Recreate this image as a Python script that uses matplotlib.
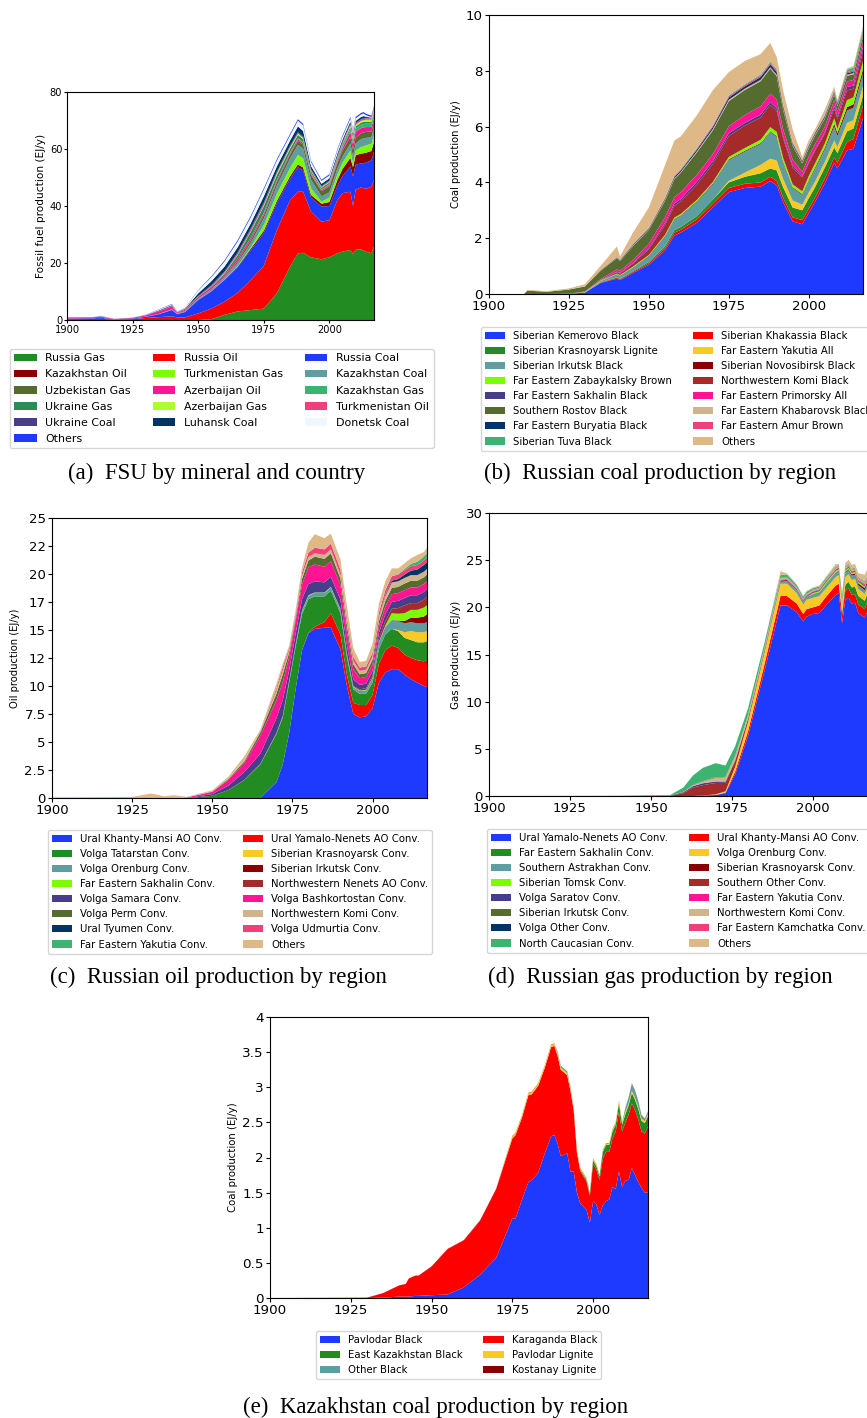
import matplotlib
matplotlib.use('Agg')
import matplotlib.pyplot as plt

W, H = 867, 1418

# colour cycle shared by the regional panels
BLUE = '#1f3aff'
RED = '#ff0000'
GREEN = '#228b22'
GOLD = '#f9ca24'
CADET = '#5f9ea0'
MAROON = '#8b0000'
LAWN = '#7cfc00'
BROWN = '#a52a2a'
SLATE = '#483d8b'
PINK = '#ff1493'
OLIVE = '#556b2f'
TAN = '#d2b48c'
NAVY = '#003366'
ROSE = '#f0407a'
SEA = '#3cb371'
BURLY = '#deb887'
REGION_COLORS = [BLUE, RED, GREEN, GOLD, CADET, MAROON, LAWN, BROWN,
                 SLATE, PINK, OLIVE, TAN, NAVY, ROSE, SEA, BURLY]

# ---- (a) FSU by mineral and country, EJ/y
years_a = [1900, 1910, 1913, 1918, 1925, 1930, 1935, 1940, 1942, 1945, 1950,
           1955, 1960, 1965, 1970, 1975, 1980, 1985, 1988, 1990, 1993, 1997,
           2000, 2003, 2005, 2008, 2009, 2010, 2012, 2013, 2014, 2016, 2017]
russia_gas = [0, 0, 0, 0, 0, 0, 0, 0, 0, 0, 0, 0.3, 1.8, 3.0, 3.5, 4.0, 9.4, 18.7, 23.4, 23.6,
              22.0, 21.3, 22.0, 23.4, 24.0, 24.6, 23.2, 24.6, 24.8, 24.4, 24.0, 23.4, 25.8]
russia_oil = [0.3, 0.35, 0.4, 0.15, 0.3, 0.7, 1.0, 1.3, 0.9, 0.9, 2.3, 3.7, 4.6, 6.5, 10.5, 15.0,
              22.2, 23.3, 21.6, 21.4, 16.0, 13.2, 13.0, 18.6, 20.5, 20.4, 16.8, 21.1, 21.7, 21.9,
              22.0, 23.4, 23.2]
russia_coal = [0.2, 0.25, 0.35, 0.1, 0.2, 0.4, 1.0, 2.2, 1.1, 1.9, 4.7, 6.0, 7.6, 9.0, 10.5, 11.5,
               9.4, 7.5, 8.6, 7.5, 5.0, 5.3, 5.0, 5.0, 6.0, 8.9, 10.4, 8.7, 8.5, 8.7, 9.3, 9.2, 10.0]
kaz_oil = [0, 0, 0, 0, 0.02, 0.03, 0.05, 0.05, 0.05, 0.05, 0.1, 0.1, 0.1, 0.2, 0.5, 0.8, 0.8, 0.9,
           1.0, 1.0, 0.9, 1.0, 1.4, 2.0, 2.5, 3.0, 3.2, 3.4, 3.4, 3.5, 3.4, 3.3, 3.5]
turkmen_gas = [0, 0, 0, 0, 0, 0, 0, 0, 0, 0, 0, 0, 0.05, 0.2, 0.5, 2.0, 2.5, 2.9, 3.3, 3.2, 2.3,
               0.7, 1.6, 2.0, 2.2, 2.5, 1.4, 1.6, 2.3, 2.4, 2.6, 2.5, 2.4]
kaz_coal = [0, 0, 0, 0, 0, 0.05, 0.1, 0.2, 0.2, 0.3, 0.4, 0.7, 0.8, 1.1, 1.5, 2.3, 2.8, 3.3, 3.5,
            3.4, 3.0, 1.9, 1.8, 2.0, 2.1, 2.5, 2.3, 2.4, 2.7, 2.8, 2.6, 2.3, 2.5]
uzbek_gas = [0, 0, 0, 0, 0, 0, 0, 0, 0, 0, 0, 0, 0.05, 0.6, 1.0, 1.2, 1.3, 1.4, 1.5, 1.5, 1.7, 1.8,
             2.0, 2.0, 2.1, 2.3, 2.3, 2.2, 2.1, 2.1, 2.1, 2.0, 2.0]
azer_oil = [0.3, 0.3, 0.35, 0.1, 0.2, 0.4, 0.9, 1.0, 0.3, 0.5, 0.6, 0.7, 0.7, 0.9, 0.8, 0.7, 0.6,
            0.55, 0.55, 0.5, 0.4, 0.4, 0.55, 0.6, 0.9, 1.8, 2.1, 2.1, 1.8, 1.8, 1.7, 1.6, 1.5]
kaz_gas = [0, 0, 0, 0, 0, 0, 0, 0, 0, 0, 0, 0, 0, 0, 0.05, 0.2, 0.2, 0.2, 0.3, 0.3, 0.25, 0.2,
           0.3, 0.5, 0.7, 1.0, 1.0, 1.1, 1.2, 1.2, 1.2, 1.2, 1.3]
ukraine_gas = [0, 0, 0, 0, 0, 0, 0, 0, 0, 0.02, 0.05, 0.3, 0.6, 1.2, 2.0, 2.2, 1.7, 1.3, 1.2, 1.1,
               0.7, 0.6, 0.6, 0.65, 0.7, 0.7, 0.7, 0.7, 0.7, 0.7, 0.7, 0.7, 0.7]
azer_gas = [0, 0, 0, 0, 0, 0, 0.02, 0.05, 0.03, 0.03, 0.05, 0.05, 0.2, 0.2, 0.2, 0.3, 0.5, 0.5,
            0.4, 0.35, 0.25, 0.2, 0.2, 0.2, 0.2, 0.6, 0.6, 0.6, 0.6, 0.6, 0.7, 0.7, 0.7]
turkmen_oil = [0, 0, 0, 0, 0, 0, 0.02, 0.05, 0.05, 0.05, 0.05, 0.1, 0.2, 0.4, 0.6, 0.6, 0.35,
               0.25, 0.25, 0.25, 0.2, 0.2, 0.3, 0.4, 0.4, 0.4, 0.4, 0.4, 0.45, 0.5, 0.5, 0.5, 0.5]
ukraine_coal = [0.02, 0.02, 0.03, 0.01, 0.02, 0.05, 0.1, 0.15, 0.05, 0.1, 0.2, 0.25, 0.3, 0.35,
                0.4, 0.4, 0.4, 0.35, 0.35, 0.3, 0.25, 0.2, 0.2, 0.2, 0.2, 0.2, 0.2, 0.2, 0.2, 0.2,
                0.15, 0.1, 0.1]
luhansk_coal = [0.05, 0.05, 0.1, 0.02, 0.05, 0.1, 0.2, 0.25, 0.1, 0.15, 0.9, 1.4, 1.7, 1.8, 1.8,
                2.2, 1.8, 1.8, 2.0, 1.9, 1.1, 0.8, 0.8, 0.8, 0.8, 0.8, 0.7, 0.75, 0.75, 0.75, 0.4,
                0.1, 0.1]
donetsk_coal = [0.03, 0.05, 0.1, 0.02, 0.03, 0.1, 0.25, 0.25, 0.1, 0.15, 1.0, 1.4, 1.8, 2.0, 2.1,
                2.3, 2.0, 1.8, 2.0, 2.0, 1.4, 1.0, 1.0, 1.0, 1.0, 1.0, 0.9, 0.9, 0.9, 0.9, 0.5,
                0.2, 0.2]
others_a = [0.05, 0.05, 0.1, 0.02, 0.03, 0.05, 0.1, 0.15, 0.1, 0.1, 0.15, 0.3, 0.4, 0.5, 0.5, 0.5,
            0.5, 0.5, 0.5, 0.5, 0.4, 0.4, 0.4, 0.4, 0.45, 0.5, 0.45, 0.5, 0.5, 0.5, 0.5, 0.5, 0.5]
labels_a = ['Russia Gas', 'Russia Oil', 'Russia Coal', 'Kazakhstan Oil', 'Turkmenistan Gas',
            'Kazakhstan Coal', 'Uzbekistan Gas', 'Azerbaijan Oil', 'Kazakhstan Gas',
            'Ukraine Gas', 'Azerbaijan Gas', 'Turkmenistan Oil', 'Ukraine Coal',
            'Luhansk Coal', 'Donetsk Coal', 'Others']
colors_a = [GREEN, RED, BLUE, MAROON, LAWN, CADET, OLIVE, PINK, SEA, '#2e8b57', '#adff2f',
            ROSE, SLATE, NAVY, '#f0f8ff', BLUE]

# ---- (b) Russian coal production by region, EJ/y
years_b = [1900, 1911, 1912, 1918, 1925, 1930, 1935, 1940, 1941, 1945, 1950, 1955, 1958, 1960,
           1965, 1970, 1975, 1980, 1985, 1988, 1990, 1992, 1995, 1998, 2000, 2002, 2005, 2008,
           2009, 2012, 2014, 2017]
kemerovo = [0, 0, 0, 0, 0.01, 0.05, 0.4, 0.55, 0.5, 0.75, 1.05, 1.55, 2.1, 2.2, 2.55, 3.1, 3.65,
            3.8, 3.85, 4.05, 3.9, 3.3, 2.6, 2.5, 2.9, 3.3, 3.95, 4.7, 4.5, 5.15, 5.2, 6.3]
khakassia = [0, 0, 0, 0, 0, 0, 0.01, 0.03, 0.03, 0.04, 0.05, 0.08, 0.1, 0.1, 0.12, 0.13, 0.15,
             0.15, 0.15, 0.15, 0.15, 0.15, 0.15, 0.15, 0.15, 0.15, 0.17, 0.2, 0.2, 0.3, 0.35, 0.45]
krasnoyarsk_lig = [0, 0, 0, 0, 0, 0, 0.01, 0.02, 0.02, 0.03, 0.05, 0.07, 0.09, 0.1, 0.12, 0.15,
                   0.2, 0.25, 0.33, 0.3, 0.38, 0.38, 0.35, 0.35, 0.38, 0.38, 0.4, 0.35, 0.35,
                   0.38, 0.38, 0.35]
yakutia_all = [0, 0, 0, 0, 0, 0, 0, 0, 0, 0, 0, 0, 0, 0, 0, 0, 0.05, 0.15, 0.3, 0.35, 0.35, 0.3,
               0.25, 0.2, 0.2, 0.2, 0.2, 0.25, 0.22, 0.3, 0.3, 0.35]
irkutsk_black = [0, 0, 0, 0, 0, 0, 0.05, 0.1, 0.1, 0.12, 0.2, 0.35, 0.38, 0.4, 0.5, 0.55, 0.75,
                 0.75, 0.75, 0.95, 0.85, 0.6, 0.45, 0.35, 0.4, 0.45, 0.45, 0.5, 0.4, 0.45, 0.45,
                 0.45]
novosibirsk = [0, 0, 0, 0, 0, 0, 0, 0.01, 0.01, 0.01, 0.02, 0.02, 0.02, 0.02, 0.03, 0.03, 0.03,
               0.03, 0.03, 0.03, 0.03, 0.03, 0.03, 0.03, 0.04, 0.05, 0.06, 0.1, 0.1, 0.12, 0.12,
               0.15]
zabaykalsky = [0, 0, 0, 0, 0, 0.02, 0.02, 0.02, 0.02, 0.03, 0.03, 0.04, 0.05, 0.05, 0.05, 0.05,
               0.08, 0.1, 0.12, 0.15, 0.15, 0.12, 0.1, 0.1, 0.15, 0.15, 0.15, 0.2, 0.15, 0.25,
               0.25, 0.3]
komi_black = [0, 0, 0, 0, 0, 0, 0, 0.05, 0.05, 0.1, 0.2, 0.35, 0.42, 0.45, 0.55, 0.65, 0.75, 0.8,
              0.8, 0.8, 0.75, 0.7, 0.6, 0.5, 0.45, 0.45, 0.35, 0.35, 0.35, 0.35, 0.3, 0.35]
sakhalin_black = [0, 0, 0, 0, 0, 0, 0.01, 0.02, 0.02, 0.03, 0.05, 0.07, 0.08, 0.08, 0.1, 0.1,
                  0.1, 0.1, 0.1, 0.1, 0.1, 0.08, 0.08, 0.05, 0.05, 0.05, 0.05, 0.1, 0.08, 0.12,
                  0.12, 0.15]
primorsky = [0, 0, 0, 0, 0, 0.02, 0.04, 0.08, 0.08, 0.1, 0.15, 0.2, 0.23, 0.25, 0.25, 0.25, 0.25,
             0.28, 0.3, 0.3, 0.3, 0.25, 0.2, 0.15, 0.2, 0.2, 0.2, 0.2, 0.18, 0.2, 0.2, 0.2]
rostov = [0, 0, 0.12, 0.08, 0.15, 0.18, 0.3, 0.4, 0.35, 0.5, 0.5, 0.6, 0.65, 0.7, 0.8, 0.85, 0.9,
          0.9, 0.9, 0.9, 0.85, 0.7, 0.5, 0.3, 0.3, 0.3, 0.3, 0.2, 0.2, 0.2, 0.2, 0.2]
khabarovsk = [0, 0, 0, 0, 0, 0, 0.01, 0.01, 0.01, 0.02, 0.02, 0.03, 0.03, 0.03, 0.04, 0.05, 0.05,
              0.05, 0.05, 0.05, 0.05, 0.04, 0.03, 0.03, 0.03, 0.03, 0.03, 0.03, 0.03, 0.04, 0.05,
              0.05]
buryatia = [0, 0, 0, 0, 0, 0, 0.01, 0.02, 0.02, 0.03, 0.03, 0.04, 0.05, 0.05, 0.06, 0.07, 0.08,
            0.08, 0.1, 0.1, 0.1, 0.08, 0.05, 0.05, 0.05, 0.05, 0.05, 0.05, 0.05, 0.05, 0.05, 0.05]
amur = [0, 0, 0, 0, 0, 0, 0.01, 0.01, 0.01, 0.02, 0.02, 0.03, 0.03, 0.03, 0.04, 0.05, 0.05, 0.05,
        0.05, 0.05, 0.05, 0.04, 0.03, 0.03, 0.03, 0.03, 0.03, 0.05, 0.05, 0.05, 0.05, 0.05]
tuva = [0, 0, 0, 0, 0, 0, 0, 0.01, 0.01, 0.01, 0.01, 0.01, 0.02, 0.02, 0.02, 0.02, 0.03, 0.03,
        0.04, 0.05, 0.05, 0.04, 0.02, 0.02, 0.02, 0.02, 0.02, 0.05, 0.05, 0.08, 0.1, 0.1]
others_b = [0, 0, 0.03, 0.02, 0.04, 0.08, 0.15, 0.37, 0.12, 0.4, 0.72, 1.16, 1.25, 1.17, 1.17,
            1.25, 0.83, 0.83, 0.73, 0.67, 0.44, 0.49, 0.46, 0.1, 0.15, 0.1, 0.19, 0.1, 0.05, 0.05,
            0.05, 0.1]
labels_b = ['Siberian Kemerovo Black', 'Siberian Khakassia Black',
            'Siberian Krasnoyarsk Lignite', 'Far Eastern Yakutia All',
            'Siberian Irkutsk Black', 'Siberian Novosibirsk Black',
            'Far Eastern Zabaykalsky Brown', 'Northwestern Komi Black',
            'Far Eastern Sakhalin Black', 'Far Eastern Primorsky All',
            'Southern Rostov Black', 'Far Eastern Khabarovsk Black',
            'Far Eastern Buryatia Black', 'Far Eastern Amur Brown',
            'Siberian Tuva Black', 'Others']

# ---- (c) Russian oil production by region, EJ/y
years_c = [1900, 1925, 1931, 1935, 1938, 1942, 1950, 1955, 1960, 1965, 1970, 1972, 1974, 1976,
           1978, 1980, 1982, 1985, 1987, 1990, 1992, 1994, 1996, 1998, 2000, 2002, 2004, 2006,
           2008, 2010, 2012, 2014, 2016, 2017]
khanty_oil = [0, 0, 0, 0, 0, 0, 0, 0, 0, 0, 1.4, 3.0, 5.8, 9.7, 13.2, 14.7, 15.1, 15.2, 15.2,
              13.3, 10.0, 7.5, 7.2, 7.3, 8.0, 10.3, 11.2, 11.5, 11.5, 11.0, 10.6, 10.3, 10.0, 9.9]
yamal_oil = [0, 0, 0, 0, 0, 0, 0, 0, 0, 0, 0, 0, 0, 0, 0, 0.05, 0.2, 0.5, 1.3, 1.3, 1.0, 1.0, 1.1,
             1.0, 1.2, 1.7, 2.0, 2.1, 1.9, 1.8, 1.9, 2.0, 2.2, 2.4]
tatarstan_oil = [0, 0, 0, 0, 0, 0, 0.2, 0.7, 1.6, 3.0, 4.3, 4.2, 4.5, 3.8, 3.2, 3.0, 2.7, 2.3,
                 2.0, 1.9, 1.6, 1.2, 1.0, 1.0, 1.1, 1.3, 1.4, 1.5, 1.5, 1.5, 1.6, 1.6, 1.7, 1.7]
krasnoyarsk_oil = [0, 0, 0, 0, 0, 0, 0, 0, 0, 0, 0, 0, 0, 0, 0, 0, 0, 0, 0, 0, 0, 0, 0, 0, 0, 0,
                   0, 0, 0.1, 0.5, 0.8, 0.9, 0.9, 0.9]
orenburg_oil = [0, 0, 0, 0, 0, 0, 0, 0, 0.02, 0.05, 0.1, 0.15, 0.2, 0.25, 0.3, 0.3, 0.3, 0.3, 0.3,
                0.3, 0.25, 0.2, 0.25, 0.3, 0.4, 0.6, 0.7, 0.8, 0.8, 0.8, 0.8, 0.8, 0.8, 0.8]
irkutsk_oil = [0, 0, 0, 0, 0, 0, 0, 0, 0, 0, 0, 0, 0, 0, 0, 0, 0, 0, 0, 0, 0, 0, 0, 0, 0, 0, 0, 0,
               0.05, 0.2, 0.4, 0.5, 0.6, 0.7]
sakhalin_oil = [0, 0, 0, 0, 0, 0, 0, 0, 0, 0, 0, 0, 0, 0, 0.05, 0.05, 0.05, 0.05, 0.05, 0.05,
                0.05, 0.05, 0.05, 0.05, 0.05, 0.05, 0.1, 0.6, 0.6, 0.7, 0.7, 0.7, 0.8, 0.8]
nenets_oil = [0, 0, 0, 0, 0, 0, 0, 0, 0, 0, 0, 0, 0, 0, 0, 0, 0, 0, 0, 0.05, 0.05, 0.05, 0.1,
              0.15, 0.2, 0.3, 0.4, 0.4, 0.5, 0.7, 0.6, 0.6, 0.7, 0.75]
samara_oil = [0, 0, 0, 0, 0, 0, 0.15, 0.4, 0.7, 0.9, 1.3, 1.4, 0.9, 0.9, 1.0, 1.0, 1.0, 0.9, 0.9,
              0.8, 0.7, 0.6, 0.4, 0.4, 0.4, 0.5, 0.6, 0.6, 0.65, 0.65, 0.7, 0.7, 0.7, 0.7]
bashkortostan_oil = [0, 0, 0, 0, 0, 0.05, 0.2, 0.5, 0.8, 1.6, 1.6, 1.6, 1.2, 1.1, 1.3, 1.5, 1.5,
                     1.4, 1.4, 1.3, 1.2, 0.9, 0.6, 0.6, 0.6, 0.6, 0.7, 0.7, 0.7, 0.7, 0.7, 0.7,
                     0.7, 0.7]
perm_oil = [0, 0, 0, 0, 0, 0, 0.02, 0.1, 0.15, 0.3, 0.6, 0.7, 0.4, 0.3, 0.5, 0.6, 0.7, 0.7, 0.7,
            0.6, 0.6, 0.45, 0.35, 0.35, 0.4, 0.45, 0.5, 0.55, 0.55, 0.6, 0.6, 0.6, 0.6, 0.6]
komi_oil = [0, 0, 0, 0, 0, 0, 0.02, 0.05, 0.1, 0.1, 0.3, 0.35, 0.2, 0.2, 0.3, 0.3, 0.3, 0.35,
            0.35, 0.35, 0.3, 0.3, 0.3, 0.3, 0.3, 0.35, 0.45, 0.5, 0.5, 0.5, 0.5, 0.5, 0.5, 0.5]
tyumen_oil = [0, 0, 0, 0, 0, 0, 0, 0, 0, 0, 0, 0, 0, 0, 0, 0, 0, 0, 0, 0, 0, 0, 0, 0, 0, 0.05,
              0.1, 0.15, 0.2, 0.3, 0.4, 0.5, 0.6, 0.6]
udmurtia_oil = [0, 0, 0, 0, 0, 0, 0, 0, 0, 0.05, 0.2, 0.3, 0.2, 0.2, 0.3, 0.4, 0.5, 0.5, 0.5,
                0.45, 0.4, 0.35, 0.3, 0.3, 0.3, 0.35, 0.4, 0.4, 0.4, 0.4, 0.4, 0.4, 0.4, 0.4]
yakutia_oil = [0, 0, 0, 0, 0, 0, 0, 0, 0, 0, 0, 0, 0, 0, 0, 0, 0, 0, 0, 0, 0, 0, 0, 0, 0, 0, 0,
               0, 0.05, 0.1, 0.2, 0.3, 0.35, 0.4]
others_c = [0.05, 0.1, 0.4, 0.15, 0.25, 0.05, 0.1, 0.15, 0.35, 0.1, 0.4, 0.3, 0.2, 0.3, 0.4, 0.9,
            1.2, 1.0, 0.9, 0.9, 1.0, 0.8, 0.5, 0.5, 0.8, 0.8, 0.8, 0.7, 0.5, 0.5, 0.5, 0.6, 0.4,
            0.5]
labels_c = ['Ural Khanty-Mansi AO Conv.', 'Ural Yamalo-Nenets AO Conv.',
            'Volga Tatarstan Conv.', 'Siberian Krasnoyarsk Conv.',
            'Volga Orenburg Conv.', 'Siberian Irkutsk Conv.',
            'Far Eastern Sakhalin Conv.', 'Northwestern Nenets AO Conv.',
            'Volga Samara Conv.', 'Volga Bashkortostan Conv.',
            'Volga Perm Conv.', 'Northwestern Komi Conv.',
            'Ural Tyumen Conv.', 'Volga Udmurtia Conv.',
            'Far Eastern Yakutia Conv.', 'Others']

# ---- (d) Russian gas production by region, EJ/y
years_d = [1900, 1940, 1956, 1960, 1963, 1966, 1970, 1973, 1976, 1980, 1985, 1990, 1992, 1995,
           1997, 1998, 2000, 2002, 2004, 2007, 2008, 2009, 2010, 2011, 2012, 2013, 2014, 2016,
           2017]
yamal_gas = [0, 0, 0, 0, 0, 0.05, 0.1, 0.3, 2.3, 6.4, 13.2, 20.2, 20.2, 19.5, 18.5, 19.0, 19.3,
             19.4, 20.2, 21.3, 21.5, 18.3, 20.8, 21.0, 20.4, 20.5, 19.4, 18.9, 19.7]
khanty_gas = [0, 0, 0, 0, 0, 0, 0.03, 0.05, 0.3, 0.5, 0.7, 1.0, 1.0, 0.9, 0.8, 0.8, 0.7, 0.8, 0.9,
              1.0, 1.0, 0.9, 1.0, 1.0, 0.9, 0.9, 0.9, 0.9, 1.0]
sakhalin_gas = [0, 0, 0, 0, 0, 0, 0, 0, 0, 0, 0, 0, 0, 0, 0, 0, 0, 0, 0, 0, 0, 0.3, 0.6, 0.7,
                0.8, 0.8, 0.9, 0.9, 0.9]
orenburg_gas = [0, 0, 0, 0, 0, 0, 0.05, 0.15, 0.5, 1.0, 1.2, 1.3, 1.3, 1.1, 1.0, 1.0, 1.0, 1.0,
                0.9, 0.9, 0.9, 0.8, 0.8, 0.8, 0.8, 0.8, 0.75, 0.7, 0.7]
astrakhan_gas = [0, 0, 0, 0, 0, 0, 0, 0, 0, 0, 0.05, 0.2, 0.25, 0.3, 0.3, 0.3, 0.4, 0.4, 0.45,
                 0.45, 0.45, 0.4, 0.45, 0.45, 0.45, 0.45, 0.4, 0.4, 0.4]
krasnoyarsk_gas = [0, 0, 0, 0, 0, 0, 0, 0, 0, 0, 0, 0, 0, 0, 0, 0, 0.02, 0.02, 0.03, 0.05, 0.05,
                   0.05, 0.1, 0.1, 0.15, 0.15, 0.2, 0.25, 0.3]
tomsk_gas = [0, 0, 0, 0, 0, 0, 0, 0, 0, 0, 0, 0, 0, 0, 0, 0, 0.1, 0.1, 0.15, 0.15, 0.15, 0.15,
             0.15, 0.15, 0.15, 0.15, 0.15, 0.15, 0.15]
southern_other_gas = [0, 0, 0.02, 0.3, 0.9, 1.1, 1.2, 0.9, 0.6, 0.3, 0.2, 0.15, 0.15, 0.1, 0.1,
                      0.1, 0.1, 0.1, 0.1, 0.1, 0.1, 0.1, 0.1, 0.1, 0.1, 0.1, 0.1, 0.1, 0.1]
saratov_gas = [0, 0.01, 0.03, 0.1, 0.15, 0.2, 0.15, 0.12, 0.1, 0.05, 0.05, 0.05, 0.05, 0.05, 0.05,
               0.05, 0.05, 0.05, 0.05, 0.05, 0.05, 0.05, 0.05, 0.05, 0.05, 0.05, 0.05, 0.05, 0.05]
yakutia_gas = [0, 0, 0, 0, 0, 0, 0.02, 0.03, 0.05, 0.05, 0.05, 0.05, 0.05, 0.05, 0.05, 0.05, 0.05,
               0.05, 0.05, 0.05, 0.05, 0.05, 0.05, 0.05, 0.05, 0.05, 0.08, 0.1, 0.1]
irkutsk_gas = [0, 0, 0, 0, 0, 0, 0, 0, 0, 0, 0, 0, 0, 0, 0, 0, 0, 0, 0, 0, 0, 0, 0, 0, 0, 0,
               0.03, 0.05, 0.05]
komi_gas = [0, 0, 0, 0.03, 0.1, 0.2, 0.4, 0.45, 0.4, 0.3, 0.2, 0.15, 0.15, 0.12, 0.1, 0.1, 0.1,
            0.1, 0.1, 0.1, 0.1, 0.1, 0.1, 0.1, 0.1, 0.1, 0.1, 0.1, 0.1]
volga_other_gas = [0, 0, 0.01, 0.02, 0.03, 0.03, 0.03, 0.03, 0.03, 0.03, 0.03, 0.03, 0.03, 0.03,
                   0.03, 0.03, 0.03, 0.03, 0.03, 0.03, 0.03, 0.03, 0.03, 0.03, 0.03, 0.03, 0.03,
                   0.03, 0.03]
kamchatka_gas = [0, 0, 0, 0, 0, 0, 0, 0, 0, 0, 0.01, 0.01, 0.01, 0.01, 0.01, 0.01, 0.02, 0.02,
                 0.02, 0.02, 0.02, 0.02, 0.02, 0.02, 0.02, 0.02, 0.02, 0.02, 0.02]
caucasus_gas = [0, 0.01, 0.05, 0.45, 1.0, 1.4, 1.5, 1.2, 1.0, 0.7, 0.5, 0.3, 0.3, 0.2, 0.2, 0.2,
                0.15, 0.15, 0.15, 0.1, 0.1, 0.1, 0.1, 0.1, 0.1, 0.1, 0.1, 0.1, 0.1]
others_d = [0, 0, 0, 0, 0, 0, 0, 0, 0, 0, 0, 0.4, 0.1, 0.1, 0.1, 0.1, 0.1, 0.1, 0.1, 0.3, 0.1, 0,
            0.3, 0.4, 0.4, 0.4, 0.4, 0.7, 0.6]
labels_d = ['Ural Yamalo-Nenets AO Conv.', 'Ural Khanty-Mansi AO Conv.',
            'Far Eastern Sakhalin Conv.', 'Volga Orenburg Conv.',
            'Southern Astrakhan Conv.', 'Siberian Krasnoyarsk Conv.',
            'Siberian Tomsk Conv.', 'Southern Other Conv.',
            'Volga Saratov Conv.', 'Far Eastern Yakutia Conv.',
            'Siberian Irkutsk Conv.', 'Northwestern Komi Conv.',
            'Volga Other Conv.', 'Far Eastern Kamchatka Conv.',
            'North Caucasian Conv.', 'Others']

# ---- (e) Kazakhstan coal production by region, EJ/y
years_e = [1900, 1930, 1935, 1940, 1942, 1943, 1945, 1946, 1950, 1955, 1960, 1965, 1970, 1975,
           1976, 1978, 1980, 1981, 1983, 1985, 1987, 1988, 1989, 1990, 1992, 1993, 1994, 1995,
           1996, 1998, 1999, 2000, 2001, 2002, 2003, 2004, 2005, 2006, 2007, 2008, 2009, 2010,
           2011, 2012, 2013, 2014, 2015, 2016, 2017]
pavlodar_black = [0, 0, 0.005, 0.02, 0.02, 0.02, 0.03, 0.03, 0.04, 0.05, 0.15, 0.33, 0.57, 1.13,
                  1.13, 1.4, 1.65, 1.67, 1.78, 2.05, 2.3, 2.32, 2.2, 2.02, 2.06, 1.8, 1.8, 1.5,
                  1.35, 1.25, 1.07, 1.38, 1.33, 1.18, 1.32, 1.38, 1.4, 1.58, 1.55, 1.8, 1.58,
                  1.67, 1.68, 1.85, 1.75, 1.65, 1.57, 1.5, 1.5]
karaganda_black = [0, 0.005, 0.065, 0.16, 0.18, 0.26, 0.29, 0.29, 0.41, 0.65, 0.67, 0.77, 0.98,
                   1.14, 1.19, 1.17, 1.24, 1.23, 1.24, 1.22, 1.27, 1.27, 1.25, 1.23, 1.11, 1.15,
                   0.87, 0.57, 0.46, 0.4, 0.38, 0.53, 0.5, 0.5, 0.66, 0.7, 0.68, 0.69, 0.82, 0.85,
                   0.79, 0.83, 0.93, 0.92, 0.92, 0.89, 0.8, 0.84, 0.94]
east_kaz_black = [0, 0, 0, 0, 0, 0, 0, 0, 0, 0, 0, 0, 0, 0, 0, 0, 0, 0, 0, 0, 0, 0, 0, 0, 0, 0, 0,
                  0, 0.02, 0.03, 0.03, 0.05, 0.05, 0.05, 0.1, 0.1, 0.1, 0.1, 0.1, 0.12, 0.1, 0.12,
                  0.13, 0.15, 0.15, 0.15, 0.15, 0.15, 0.15]
pavlodar_lignite = [0, 0, 0, 0, 0, 0, 0, 0, 0, 0, 0, 0, 0, 0.03, 0.03, 0.03, 0.03, 0.03, 0.03,
                    0.03, 0.03, 0.03, 0.03, 0.03, 0.03, 0.03, 0.03, 0.03, 0.02, 0.02, 0.02, 0.02,
                    0.02, 0.02, 0.02, 0.02, 0.02, 0.03, 0.03, 0.03, 0.03, 0.03, 0.03, 0.03, 0.03,
                    0.03, 0.03, 0.03, 0.03]
other_black = [0, 0, 0, 0, 0, 0, 0, 0, 0, 0, 0, 0, 0, 0, 0, 0, 0, 0, 0, 0, 0, 0, 0.02, 0.02,
               0.02, 0.02, 0, 0, 0, 0, 0, 0, 0, 0, 0, 0, 0, 0, 0, 0, 0, 0.05, 0.08, 0.1, 0.1,
               0.08, 0.05, 0.03, 0.03]
kostanay_lignite = [0, 0, 0, 0, 0, 0, 0, 0, 0, 0, 0.005, 0.005, 0.005, 0.005, 0.005, 0.005,
                    0.005, 0.005, 0.005, 0.005, 0.005, 0.005, 0.005, 0.005, 0.005, 0.005, 0.005,
                    0.005, 0.005, 0.005, 0.005, 0.005, 0.005, 0.005, 0.005, 0.005, 0.005, 0.005,
                    0.005, 0.005, 0.005, 0.005, 0.005, 0.005, 0.005, 0.005, 0.005, 0.005, 0.005]
labels_e = ['Pavlodar Black', 'Karaganda Black', 'East Kazakhstan Black',
            'Pavlodar Lignite', 'Other Black', 'Kostanay Lignite']


def pixel_axes(fig, x0, y0, x1, y1):
    return fig.add_axes([x0 / W, 1 - y1 / H, (x1 - x0) / W, (y1 - y0) / H])


def row_major(items, ncol):
    # matplotlib fills legend columns first, so reorder to read across rows
    nrows = -(-len(items) // ncol)
    return [items[r * ncol + c] for c in range(ncol) for r in range(nrows)
            if r * ncol + c < len(items)]


def stacked_panel(fig, box, years, series, labels, colors, ylabel, ymax, yticks, yticklabels,
                  tick_size, label_size, legend_at, ncol, legend_size, caption, caption_at,
                  tick_len=3.0, tick_pad=1.6, spacing=0.5):
    ax = pixel_axes(fig, *box)
    polys = ax.stackplot(years, *series, colors=colors, labels=labels)
    ax.set_xlim(1900, 2017)
    ax.set_ylim(0, ymax)
    ax.set_xticks([1900, 1925, 1950, 1975, 2000])
    ax.set_yticks(yticks)
    ax.set_yticklabels(yticklabels)
    ax.tick_params(labelsize=tick_size, length=tick_len, pad=tick_pad)
    ax.set_ylabel(ylabel, fontsize=label_size, labelpad=3)
    ax.legend(row_major(polys, ncol), row_major(labels, ncol), ncol=ncol, loc='upper left',
              bbox_to_anchor=(legend_at[0] / W, 1 - legend_at[1] / H),
              bbox_transform=fig.transFigure, borderaxespad=0, fontsize=legend_size,
              labelspacing=spacing)
    fig.text(caption_at[0] / W, 1 - caption_at[1] / H, caption, ha='center', va='center',
             family='Liberation Serif', fontsize=16.5)
    return ax


fig = plt.figure(figsize=(W / 100, H / 100), dpi=100)

stacked_panel(fig, (67, 92, 374, 320), years_a,
              [russia_gas, russia_oil, russia_coal, kaz_oil, turkmen_gas, kaz_coal, uzbek_gas,
               azer_oil, kaz_gas, ukraine_gas, azer_gas, turkmen_oil, ukraine_coal,
               luhansk_coal, donetsk_coal, others_a],
              labels_a, colors_a, 'Fossil fuel production (EJ/y)', 80,
              [0, 20, 40, 60, 80], ['0', '20', '40', '60', '80'], 7.1, 7.6,
              (10, 349), 3, 7.95, '(a)  FSU by mineral and country', (217, 473),
              tick_len=2.4, tick_pad=1.0, spacing=0.55)

stacked_panel(fig, (489, 15, 863, 294), years_b,
              [kemerovo, khakassia, krasnoyarsk_lig, yakutia_all, irkutsk_black, novosibirsk,
               zabaykalsky, komi_black, sakhalin_black, primorsky, rostov, khabarovsk,
               buryatia, amur, tuva, others_b],
              labels_b, REGION_COLORS, 'Coal production (EJ/y)', 10,
              [0, 2, 4, 6, 8, 10], ['0', '2', '4', '6', '8', '10'], 9.6, 7.2,
              (481, 327), 2, 7.3, '(b)  Russian coal production by region', (660, 473))

stacked_panel(fig, (52, 518, 427, 798), years_c,
              [khanty_oil, yamal_oil, tatarstan_oil, krasnoyarsk_oil, orenburg_oil, irkutsk_oil,
               sakhalin_oil, nenets_oil, samara_oil, bashkortostan_oil, perm_oil, komi_oil,
               tyumen_oil, udmurtia_oil, yakutia_oil, others_c],
              labels_c, REGION_COLORS, 'Oil production (EJ/y)', 25,
              [0, 2.5, 5, 7.5, 10, 12.5, 15, 17.5, 20, 22.5, 25],
              ['0', '2.5', '5', '7.5', '10', '12', '15', '17', '20', '22', '25'], 9.5, 7.2,
              (48, 830), 2, 7.3, '(c)  Russian oil production by region', (218, 977))

stacked_panel(fig, (489, 513, 868, 796), years_d,
              [yamal_gas, khanty_gas, sakhalin_gas, orenburg_gas, astrakhan_gas,
               krasnoyarsk_gas, tomsk_gas, southern_other_gas, saratov_gas, yakutia_gas,
               irkutsk_gas, komi_gas, volga_other_gas, kamchatka_gas, caucasus_gas, others_d],
              labels_d, REGION_COLORS, 'Gas production (EJ/y)', 30,
              [0, 5, 10, 15, 20, 25, 30], ['0', '5', '10', '15', '20', '25', '30'], 9.5, 7.4,
              (487, 829), 2, 7.3, '(d)  Russian gas production by region', (660, 977))

stacked_panel(fig, (270, 1017, 648, 1298), years_e,
              [pavlodar_black, karaganda_black, east_kaz_black, pavlodar_lignite, other_black,
               kostanay_lignite],
              labels_e, REGION_COLORS[:6], 'Coal production (EJ/y)', 4,
              [0, 0.5, 1, 1.5, 2, 2.5, 3, 3.5, 4],
              ['0', '0.5', '1', '1.5', '2', '2.5', '3', '3.5', '4'], 9.7, 7.3,
              (316, 1331), 2, 7.3, '(e)  Kazakhstan coal production by region', (436, 1407))

fig.savefig('out.png', dpi=100)
